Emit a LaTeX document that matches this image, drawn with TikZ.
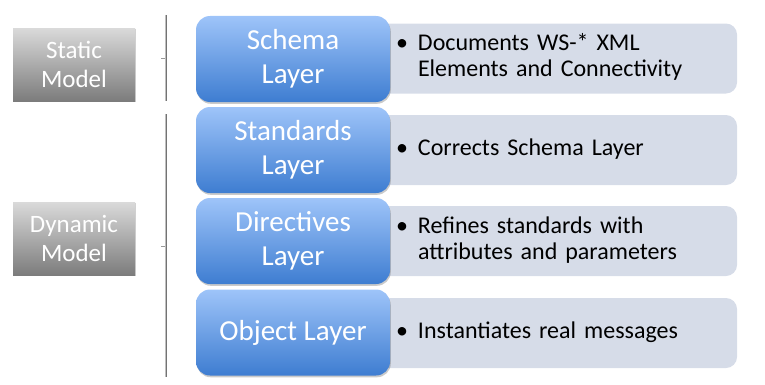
\documentclass[tikz,border=0pt]{standalone}
\usepackage{fontspec}
\setmainfont{Carlito}
\usetikzlibrary{shadows}
\definecolor{bluetop}{HTML}{9EC4F9}
\definecolor{bluebot}{HTML}{3E7DD1}
\definecolor{graytop}{HTML}{DADADA}
\definecolor{graybot}{HTML}{7C7C7C}
\definecolor{descfill}{HTML}{D6DCE8}
\tikzset{
  layerbox/.style={rounded corners=14pt, minimum width=194pt, minimum height=86pt,
    top color=bluetop, bottom color=bluebot, draw=none, text=white, align=center,
    font=\fontsize{29}{34}\selectfont,
    drop shadow={shadow xshift=0.8pt, shadow yshift=-1.8pt, opacity=0.35, fill=black!60}},
  descbox/.style={rounded corners=11pt, minimum width=377pt, minimum height=70pt,
    fill=descfill, draw=none, inner xsep=36pt, text width=305pt, align=left,
    font=\fontsize{24}{26}\selectfont},
  modelbox/.style={minimum width=122pt, minimum height=73pt, top color=graytop,
    bottom color=graybot, draw=none, text=white, align=center,
    font=\fontsize{25}{29}\selectfont,
    drop shadow={shadow xshift=0.8pt, shadow yshift=-1.2pt, opacity=0.3, fill=black!60}},
  bracelight/.style={line width=1.4pt, draw=black!25},
  bracedark/.style={line width=1.1pt, draw=black!55},
}
\newcommand{\bulletlines}[1]{\begin{tabular}{@{}p{16pt}@{\hspace{6pt}}l@{}}\textbullet & #1\end{tabular}}
\begin{document}
\begin{tikzpicture}[x=1pt,y=1pt]
\useasboundingbox (0,0) rectangle (765,384);

% description panels (drawn first, they sit behind the layer boxes)
\node[descbox] (d1) at (548.5,325.5) {\bulletlines{Documents WS-* XML\\ & Elements and Connectivity}};
\node[descbox] (d2) at (548.5,234) {\bulletlines{Corrects Schema Layer}};
\node[descbox] (d3) at (548.5,143) {\bulletlines{Refines standards with\\ & attributes and parameters}};
\node[descbox] (d4) at (548.5,51) {\bulletlines{Instantiates real messages}};

% layer boxes
\node[layerbox] (l1) at (293,325) {Schema\\Layer};
\node[layerbox] (l2) at (293,234) {Standards\\Layer};
\node[layerbox] (l3) at (293,143) {Directives\\Layer};
\node[layerbox] (l4) at (293,51.5) {Object Layer};

% model labels
\node[modelbox] (m1) at (74,319.5) {Static\\Model};
\node[modelbox] (m2) at (74,145.5) {Dynamic\\Model};

% grouping brackets
\coordinate (b1t) at (166,369);
\coordinate (b1b) at (166,283);
\coordinate (b1m) at (166,326);
\coordinate (b2t) at (166,270);
\coordinate (b2b) at (166,7);
\coordinate (b2m) at (166,138);
\foreach \t/\b/\m in {b1t/b1b/b1m, b2t/b2b/b2m}{
  \draw[bracelight] ([xshift=-0.5pt]\t) -- ([xshift=-0.5pt]\b);
  \draw[bracedark] ([xshift=0.8pt]\t) -- ([xshift=0.8pt]\b);
  \draw[line width=0.8pt, draw=black!40] ([xshift=-5pt]\m) -- ([xshift=-1pt]\m);
}
\end{tikzpicture}
\end{document}
